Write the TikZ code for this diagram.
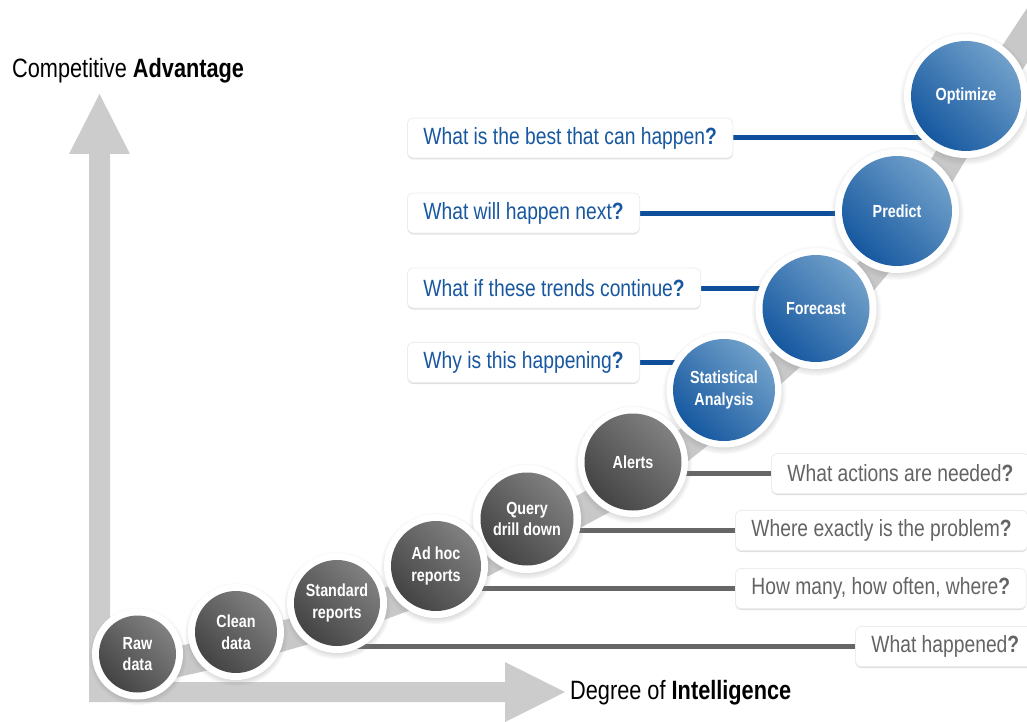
\documentclass[tikz,border=0pt]{standalone}
\usepackage{fontspec}
\setmainfont{Liberation Sans}[FakeStretch=0.82]
\usetikzlibrary{shadows}
\definecolor{axisgray}{RGB}{204,204,204}
\definecolor{bandgray}{RGB}{200,200,200}
\definecolor{qblue}{RGB}{24,88,160}
\definecolor{lblue}{RGB}{14,78,154}
\definecolor{qgray}{RGB}{100,100,100}
\definecolor{lgray}{RGB}{102,102,102}
\definecolor{bdark}{RGB}{22,88,160}
\definecolor{blight}{RGB}{112,160,202}
\definecolor{gdark}{RGB}{68,68,68}
\definecolor{glight}{RGB}{128,128,128}
\pgfdeclarelayer{bg}
\pgfsetlayers{bg,main}
\begin{document}
\begin{tikzpicture}[x=1pt,y=-1pt,
  ring/.style={circle, fill=white, inner sep=0pt, minimum size=#1,
    circular drop shadow={shadow xshift=0pt, shadow yshift=-2pt, shadow scale=1.08, opacity=0.35}},
  ball/.style={circle, inner sep=0pt, minimum size=#1, text=white, align=center,
    font=\bfseries\fontsize{17.5}{21.5}\selectfont},
  grayball/.style={ball=#1, top color=glight, bottom color=gdark, shading angle=-45},
  blueball/.style={ball=#1, top color=blight, bottom color=bdark, shading angle=-45},
  qbox/.style={rectangle, rounded corners=6pt, fill=white, draw=black!7, line width=0.8pt,
    minimum height=40pt, inner xsep=16pt, anchor=west, font=\fontsize{23.5}{28}\selectfont,
    drop shadow={shadow xshift=0pt, shadow yshift=-1.5pt, opacity=0.12, fill=black}},
  bq/.style={qbox, text=qblue},
  gq/.style={qbox, text=qgray},
  bline/.style={draw=lblue, line width=5pt},
  gline/.style={draw=lgray, line width=5pt},
  axlabel/.style={anchor=west, font=\fontsize{26.5}{30}\selectfont, text=black, inner sep=0pt}
]
\useasboundingbox (0,0) rectangle (1027,722);

% axis labels
\node[axlabel] (ylab) at (12,71) {Competitive \textbf{Advantage}};
\node[axlabel] (xlab) at (570,693) {Degree of \textbf{Intelligence}};

% circles, from top to bottom
\node[ring=124pt] (opt) at (966,96) {};
\node[blueball=110pt] (optin) at (opt) {Optimize};
\node[ring=124pt] (pred) at (897,211) {};
\node[blueball=110pt] (predin) at (pred) {Predict};
\node[ring=121pt] (fore) at (816,308.5) {};
\node[blueball=107pt] (forein) at (fore) {Forecast};
\node[ring=115pt] (stat) at (724,390) {};
\node[blueball=102pt] (statin) at (stat) {Statistical\\Analysis};
\node[ring=110pt] (alert) at (633,462) {};
\node[grayball=97pt] (alertin) at (alert) {Alerts};
\node[ring=108pt] (query) at (527,519) {};
\node[grayball=93pt] (queryin) at (query) {Query\\drill down};
\node[ring=104pt] (adhoc) at (436,566) {};
\node[grayball=90pt] (adhocin) at (adhoc) {Ad hoc\\reports};
\node[ring=100pt] (std) at (337,603) {};
\node[grayball=86pt] (stdin) at (std) {Standard\\reports};
\node[ring=96pt] (clean) at (236,632) {};
\node[grayball=82pt] (cleanin) at (clean) {Clean\\data};
\node[ring=91pt] (raw) at (137.5,654) {};
\node[grayball=77pt] (rawin) at (raw) {Raw\\data};

% question boxes
\node[bq] (qopt) at (407,138) {What is the best that can happen\textbf{?}};
\node[bq] (qpred) at (407,213) {What will happen next\textbf{?}};
\node[bq] (qfore) at (407,288) {What if these trends continue\textbf{?}};
\node[bq] (qstat) at (407,362.5) {Why is this happening\textbf{?}};
\node[gq] (qalert) at (771,473.5) {What actions are needed\textbf{?}};
\node[gq] (qquery) at (735,530.5) {Where exactly is the problem\textbf{?}};
\node[gq] (qadhoc) at (735,588.5) {How many, how often, where\textbf{?}};
\node[gq] (qstd) at (855,646.5) {What happened\textbf{?}};

\begin{pgfonlayer}{bg}
  % axes
  \fill[axisgray] (89,154) -- (69,154) -- (99.5,94) -- (130,154) -- (110,154)
     -- (110,682) -- (505,682) -- (505,662) -- (565,692) -- (505,722)
     -- (505,702) -- (89,702) -- cycle;
  % rising band
  \draw[bandgray, line width=30pt, line join=round, line cap=round]
     (150,668) -- (248,646) -- (349,617) -- (448,580) -- (539,533)
     -- (645,476) -- (736,404) -- (828,322) -- (909,225) -- (978,110) -- (1070,-30);
  % connectors
  \draw[bline] (qopt.east) -- (qopt.east -| opt);
  \draw[bline] (qpred.east) -- (qpred.east -| pred);
  \draw[bline] (qfore.east) -- (qfore.east -| fore);
  \draw[bline] (qstat.east) -- (qstat.east -| stat);
  \draw[gline] (qalert.west) -- (qalert.west -| alert);
  \draw[gline] (qquery.west) -- (qquery.west -| query);
  \draw[gline] (qadhoc.west) -- (qadhoc.west -| adhoc);
  \draw[gline] (qstd.west) -- (qstd.west -| std);
\end{pgfonlayer}
\end{tikzpicture}
\end{document}
